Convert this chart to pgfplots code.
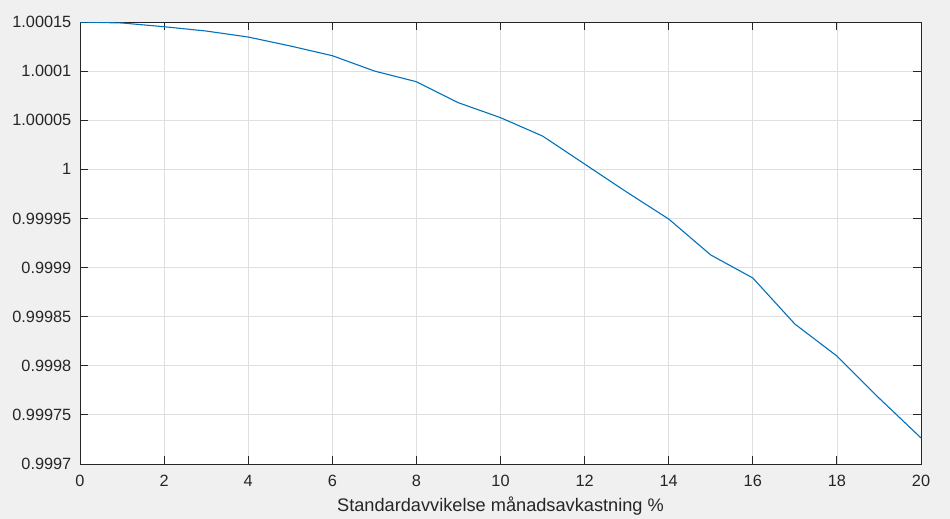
\documentclass[border=0pt]{standalone}
\usepackage{pgfplots}
\pgfplotsset{compat=1.18}
\usepackage{pgfplotstable}
\usepackage{fontspec}
\setmainfont{Liberation Sans}

\definecolor{figbg}{HTML}{F0F0F0}
\definecolor{axcol}{HTML}{262626}
\definecolor{mblue}{HTML}{0072BD}
\definecolor{gridc}{HTML}{DFDFDF}

% dev = (value - 1) * 1e5 ; the y tick labels carry the real values
\pgfplotstableread{
x   dev
0   15.00
1   14.90
2   14.52
3   14.08
4   13.47
5   12.56
6   11.57
7   10.01
8    8.92
9    6.78
10   5.26
11   3.39
12   0.54
13  -2.31
14  -5.06
15  -8.72
16 -11.06
17 -15.75
18 -19.01
19 -23.28
20 -27.35
}\stdtable

\begin{document}
\begin{tikzpicture}[x=1pt,y=1pt]
\fill[figbg] (0,0) rectangle (950,519);
\begin{axis}[
  at={(80pt,55pt)}, anchor=south west,
  scale only axis,
  width=841pt, height=442pt,
  axis background/.style={fill=white},
  xmin=0, xmax=20, ymin=-30, ymax=15,
  xtick={0,2,...,20},
  ytick={-30,-25,...,15},
  yticklabels={0.9997,0.99975,0.9998,0.99985,0.9999,0.99995,1,1.00005,1.0001,1.00015},
  grid=major,
  grid style={gridc, line width=0.8pt},
  axis line style={axcol, line width=0.9pt},
  tick style={axcol, line width=0.9pt},
  major tick length=8pt,
  tick align=inside,
  tick pos=both,
  ticklabel style={font=\fontsize{16.3}{19}\selectfont, text=axcol},
  xticklabel style={anchor=base, yshift=-23pt},
  yticklabel style={anchor=east, inner sep=0pt, xshift=-8.5pt},
  /pgf/number format/assume math mode=true,
  xlabel={Standardavvikelse månadsavkastning \%},
  xlabel style={at={(axis description cs:0.5,0)}, anchor=base, yshift=-47.5pt,
    font=\fontsize{18.2}{21}\selectfont, text=axcol, inner sep=0pt},
]
\addplot[mblue, line width=1.1pt] table[x=x, y=dev] {\stdtable};
\end{axis}
\end{tikzpicture}
\end{document}
